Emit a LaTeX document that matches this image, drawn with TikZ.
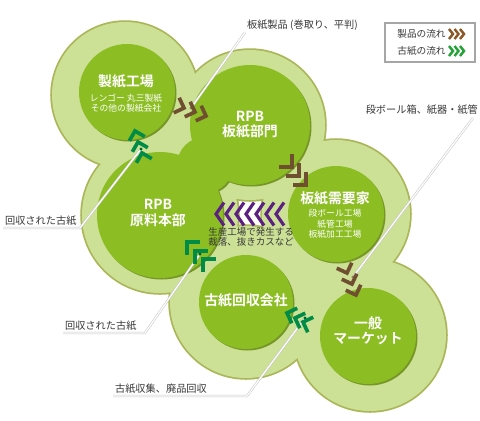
\documentclass[tikz,border=0pt]{standalone}
\usepackage{fontspec}
\setmainfont{Noto Sans CJK JP}[BoldFont={Noto Sans CJK JP Bold}]
\definecolor{halolight}{RGB}{204,225,150}
\definecolor{haloedge}{RGB}{170,182,88}
\definecolor{cellgreen}{RGB}{140,190,36}
\definecolor{cellshadow}{RGB}{118,150,40}
\definecolor{flowbrown}{RGB}{112,78,48}
\definecolor{flowgreen}{RGB}{0,140,70}
\definecolor{scrappurple}{RGB}{92,32,130}
\definecolor{labelgray}{RGB}{55,55,55}
\usetikzlibrary{positioning, calc}

\begin{document}
\begin{tikzpicture}[x=0.02cm, y=-0.02cm,
  biglabel/.style={font=\fontsize{7.9}{8.6}\selectfont\bfseries, text=white, align=center, inner sep=0pt},
  sublabel/.style={font=\fontsize{5}{6}\selectfont, text=white, align=center, inner sep=0pt},
  outlabel/.style={font=\fontsize{5.8}{6.5}\selectfont, text=labelgray, inner sep=1pt},
  chev/.style={line width=2.1pt, line join=miter, line cap=butt},
  leader/.style={draw=gray!45, line width=0.3pt, double=white, double distance=0.7pt},
  flowdot/.style={circle, inner sep=0pt, minimum size=1.8pt}]
  \useasboundingbox (0,0) rectangle (480,420);

  % Light halo round every cell
  \foreach \cx/\cy/\r in {125/95/73, 250/125/75, 160/215/78, 336/214/74, 246/302/76, 370/335/76}
    \draw[haloedge, line width=2pt] (\cx,\cy) circle (\r);
  \foreach \cx/\cy/\r in {125/95/73, 250/125/75, 160/215/78, 336/214/74, 246/302/76, 370/335/76}
    \fill[halolight] (\cx,\cy) circle (\r);

  % Dark cells (the two RPB cells are joined)
  \foreach \cx/\cy/\r in {127/92/48, 250/125/60, 160/215/63, 205/165/28, 336/214/48, 246/302/47, 368/336/48}
    \fill[cellshadow] ({\cx+1.5},{\cy+1.5}) circle (\r);
  \foreach \cx/\cy/\r in {127/92/48, 250/125/60, 160/215/63, 205/165/28, 336/214/48, 246/302/47, 368/336/48}
    \fill[cellgreen] (\cx,\cy) circle (\r);

  % Cell texts
  \node[biglabel] (mill) at (126,81) {製紙工場};
  \node[sublabel] (millsub) at (126,103) {レンゴー 丸三製紙\\その他の製紙会社};
  \node[biglabel] (board) at (250,125) {RPB\\板紙部門};
  \node[biglabel] (pulp) at (158,213) {RPB\\原料本部};
  \node[biglabel] (users) at (335,198) {板紙需要家};
  \node[sublabel] (userssub) at (335,224) {段ボール工場\\紙管工場\\板紙加工工場};
  \node[biglabel] (collector) at (246,300) {古紙回収会社};
  \node[biglabel] (market) at (368,331) {一般\\マーケット};

  % Scrap from the plants
  \node[font=\fontsize{5.4}{5.9}\selectfont, text=labelgray, align=left, inner sep=0pt, anchor=west] (scrap) at (208,237) {生産工場で発生する\\裁落、抜きカスなど};

  % Outside labels
  \node[outlabel, anchor=west] (lblBoard) at (245,25) {板紙製品 (巻取り、平判)};
  \node[outlabel, anchor=east] (lblBox) at (480,110) {段ボール箱、紙器・紙管};
  \node[outlabel, anchor=south west] (lblRecA) at (3,228) {回収された古紙};
  \node[outlabel, anchor=south west] (lblRecB) at (63,333) {回収された古紙};
  \node[outlabel, anchor=south west] (lblCollect) at (113,396) {古紙収集、廃品回収};

  % Leader ends
  \coordinate (bendRecA) at (80,228);
  \coordinate (bendRecB) at (145,333);
  \coordinate (bendCollect) at (247,396);
  \coordinate (startBox) at (473,118);
  \node[flowdot, fill=flowbrown!70] (dotBoard) at (191,108) {};
  \node[flowdot, fill=flowbrown!70] (dotBox) at (353,277) {};
  \node[flowdot, fill=flowgreen!70!black] (dotRecA) at (141,149) {};
  \node[flowdot, fill=flowgreen!70!black] (dotRecB) at (200,254) {};
  \node[flowdot, fill=flowgreen!70!black] (dotCollect) at (305,318) {};

  \draw[leader] (lblBoard.south west) -- (dotBoard);
  \draw[leader] (startBox) -- (dotBox);
  \draw[leader] (lblRecA.south west) -- (bendRecA) -- (dotRecA);
  \draw[leader] (lblRecB.south west) -- (bendRecB) -- (dotRecB);
  \draw[leader] (lblCollect.south west) -- (bendCollect) -- (dotCollect);

  % Product flow (brown)
  \foreach \x/\y in {184/108, 195/112, 206/116}
    \draw[chev, flowbrown, shift={(\x,\y)}, rotate=-20] (-8,8) -- (0,0) -- (-8,-8);
  \foreach \x/\y in {292/167, 299/176, 306/185}
    \draw[chev, flowbrown, shift={(\x,\y)}, rotate=-45] (-9,9) -- (0,0) -- (-9,-9);
  \foreach \x/\y in {347/273, 352/284, 356/295}
    \draw[chev, flowbrown, shift={(\x,\y)}, rotate=-70] (-8,8) -- (0,0) -- (-8,-8);

  % Waste paper flow (green)
  \foreach \x/\y in {135/131, 138/142, 142/153}
    \draw[chev, flowgreen, shift={(\x,\y)}, rotate=105] (-8,8) -- (0,0) -- (-8,-8);
  \foreach \x/\y in {187/242, 195/251, 203/259}
    \draw[chev, flowgreen, shift={(\x,\y)}, rotate=135] (-9,9) -- (0,0) -- (-9,-9);
  \foreach \x/\y in {287/313, 295/318, 303/322}
    \draw[chev, flowgreen, shift={(\x,\y)}, rotate=160] (-8,8) -- (0,0) -- (-8,-8);

  % Scrap flow (purple)
  \foreach \x in {0,...,6}
    \draw[chev, scrappurple, line width=1.8pt, shift={(216+10*\x,214)}] (8,-11.5) -- (0,0) -- (8,11.5);

  % Legend
  \node[draw=gray!70, line width=0.6pt, minimum width=90*0.02cm, minimum height=39*0.02cm, inner sep=0pt] (legend) at (430,42.5) {};
  \node[font=\fontsize{5.5}{6}\selectfont, text=labelgray, anchor=east, inner sep=0pt] (legProduct) at (446,34) {製品の流れ};
  \node[font=\fontsize{5.5}{6}\selectfont, text=labelgray, anchor=east, inner sep=0pt] (legPaper) at (446,51) {古紙の流れ};
  \foreach \x in {453,458.5,464}
    \draw[line width=1.4pt, flowbrown!80!orange, shift={(\x,34)}] (-4,-5) -- (0,0) -- (-4,5);
  \foreach \x in {453,458.5,464}
    \draw[line width=1.4pt, flowgreen!80!lime, shift={(\x,51)}] (-4,-5) -- (0,0) -- (-4,5);
\end{tikzpicture}
\end{document}
